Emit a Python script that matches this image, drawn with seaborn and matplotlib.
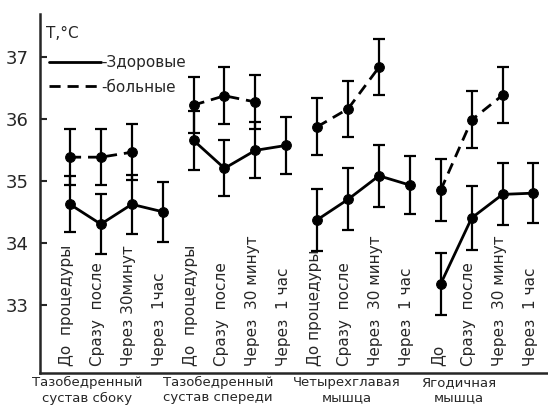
import numpy as np
import pandas as pd
import matplotlib
matplotlib.use("Agg")
import matplotlib.pyplot as plt
import matplotlib.transforms as mtransforms
from matplotlib.lines import Line2D
import seaborn as sns

# ---- data ----
groups = ["Тазобедренный\nсустав сбоку", "Тазобедренный\nсустав спереди",
          "Четырехглавая\nмышца", "Ягодичная\nмышца"]
time_labels = [
    ["До  процедуры", "Сразу  после", "Через 30минут", "Через  1час"],
    ["До  процедуры", "Сразу  после", "Через  30 минут", "Через  1 час"],
    ["До процедуры", "Сразу  после", "Через  30 минут", "Через  1 час"],
    ["До", "Сразу  после", "Через  30 минут", "Через  1 час"],
]
healthy = [34.62, 34.30, 34.62, 34.50,
           35.65, 35.20, 35.49, 35.57,
           34.37, 34.70, 35.08, 34.93,
           33.34, 34.40, 34.78, 34.80]
healthy_err = [0.45, 0.48, 0.48, 0.48,
               0.47, 0.45, 0.45, 0.46,
               0.50, 0.50, 0.50, 0.47,
               0.50, 0.52, 0.50, 0.48]
sick = [35.38, 35.38, 35.46,
        36.22, 36.37, 36.27,
        35.87, 36.16, 36.83,
        34.85, 35.98, 36.38]
sick_err = [0.45, 0.45, 0.45,
            0.45, 0.46, 0.44,
            0.46, 0.45, 0.45,
            0.50, 0.46, 0.45]
sick_times = [0, 1, 2]  # index within group where sick data exist
yticks = [33, 34, 35, 36, 37]

# ---- build table ----
rows = []
for g in range(4):
    for t in range(4):
        i = g * 4 + t
        rows.append(dict(pos=i, val=healthy[i], err=healthy_err[i],
                         series="Здоровые", group=g))
k = 0
for g in range(4):
    for t in sick_times:
        rows.append(dict(pos=g * 4 + t, val=sick[k], err=sick_err[k],
                         series="больные", group=g))
        k += 1
df = pd.DataFrame(rows)

sns.set_style("ticks")
plt.rcParams['font.family'] = ['DejaVu Sans']

fig = plt.figure(figsize=(5.48, 4.09), dpi=100)
ax = fig.add_axes([0.073, 0.088, 0.927, 0.878])

sns.lineplot(data=df, x="pos", y="val", style="series", units="group",
             estimator=None, color="black", linewidth=2,
             dashes={"Здоровые": "", "больные": (4, 2.5)},
             markers={"Здоровые": "o", "больные": "o"},
             markersize=7, markeredgecolor="black", legend=False, ax=ax)

ax.errorbar(df["pos"], df["val"], yerr=df["err"], fmt="none",
            ecolor="black", elinewidth=1.6, capsize=4, capthick=1.6)

ax.set_xlim(-0.97, 15.47)
ax.set_ylim(31.9, 37.69)
ax.set_yticks(yticks)
ax.set_yticklabels([str(v) for v in yticks], fontsize=13)
ax.set_xticks([])
ax.set_xlabel("")
ax.set_ylabel("")
ax.tick_params(axis="y", direction="in", length=5, width=1.5, pad=8)
for s in ["top", "right"]:
    ax.spines[s].set_visible(False)
for s in ["left", "bottom"]:
    ax.spines[s].set_linewidth(1.8)

# time labels inside the axes
trans = mtransforms.blended_transform_factory(ax.transData, ax.transAxes)
for g in range(4):
    for t in range(4):
        ax.text(g * 4 + t - 0.1, 0.02, time_labels[g][t], rotation=90,
                ha="center", va="bottom", fontsize=11, transform=trans)

# group labels below
group_x = [0.55, 4.8, 8.97, 12.57]
for gx, name in zip(group_x, groups):
    ax.text(gx, -0.008, name, ha="center", va="top", fontsize=9.5,
            linespacing=1.25, transform=trans)

# legend
handles = [Line2D([], [], color="black", lw=2),
           Line2D([], [], color="black", lw=2, dashes=(4, 2.5))]
ax.legend(handles, ["-Здоровые", "-больные"], loc="upper left",
          bbox_to_anchor=(0.0, 0.91), frameon=False, fontsize=11,
          handlelength=3.4, handletextpad=0.0, labelspacing=0.6,
          borderaxespad=0.2)

ax.text(0.012, 0.965, "T,°C", transform=ax.transAxes, fontsize=11,
        ha="left", va="top")

fig.savefig("out.png", dpi=100)
